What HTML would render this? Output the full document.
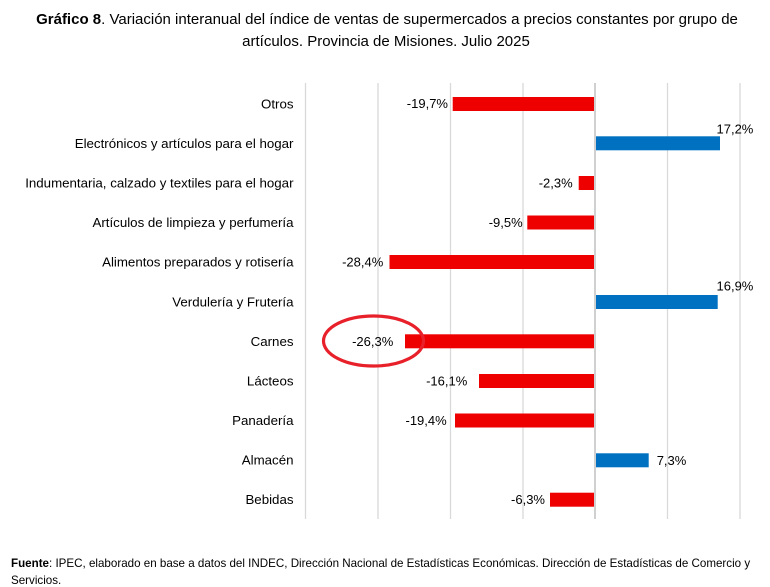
<!DOCTYPE html>
<html>
<head>
<meta charset="utf-8">
<style>
  html, body { margin: 0; padding: 0; background: #ffffff; }
  body { width: 770px; height: 587px; overflow: hidden; }
  svg { display: block; }
  text { font-family: "Liberation Sans", Arial, sans-serif; fill: #000; }
</style>
</head>
<body>
<svg width="770" height="587" viewBox="0 0 770 587" xmlns="http://www.w3.org/2000/svg">
  <!-- Title -->
  <text x="387" y="24" font-size="15" text-anchor="middle"><tspan font-weight="bold">Gráfico 8</tspan>. Variación interanual del índice de ventas de supermercados a precios constantes por grupo de</text>
  <text x="386" y="46" font-size="15" text-anchor="middle">artículos. Provincia de Misiones. Julio 2025</text>

  <!-- Gridlines -->
  <g stroke="#d9d9d9" stroke-width="1.3">
    <line x1="305.5" y1="83" x2="305.5" y2="519"/>
    <line x1="378" y1="83" x2="378" y2="519"/>
    <line x1="450.5" y1="83" x2="450.5" y2="519"/>
    <line x1="523" y1="83" x2="523" y2="519"/>
    <line x1="667.5" y1="83" x2="667.5" y2="519"/>
    <line x1="740" y1="83" x2="740" y2="519"/>
  </g>
  <line x1="595" y1="83" x2="595" y2="519" stroke="#d0d0d0" stroke-width="2"/>

  <!-- Bars -->
  <g fill="#EE0000">
    <rect x="452.7" y="97" width="141.3" height="14"/>
    <rect x="578.7" y="176" width="15.3" height="14"/>
    <rect x="527.3" y="215.5" width="66.7" height="14"/>
    <rect x="389.5" y="255" width="204.5" height="14"/>
    <rect x="405" y="334.3" width="189" height="14"/>
    <rect x="479" y="374" width="115" height="14"/>
    <rect x="455" y="413.5" width="139" height="14"/>
    <rect x="550" y="492.7" width="44" height="14"/>
  </g>
  <g fill="#0070C0">
    <rect x="596" y="136.3" width="124" height="14"/>
    <rect x="596" y="295" width="121.7" height="14"/>
    <rect x="596" y="453.3" width="52.7" height="14"/>
  </g>

  <!-- Category labels -->
  <g font-size="13.3" text-anchor="end">
    <text x="293.5" y="108.5">Otros</text>
    <text x="293.5" y="148">Electrónicos y artículos para el hogar</text>
    <text x="293.5" y="187.6">Indumentaria, calzado y textiles para el hogar</text>
    <text x="293.5" y="227.2">Artículos de limpieza y perfumería</text>
    <text x="293.5" y="266.7">Alimentos preparados y rotisería</text>
    <text x="293.5" y="306.3">Verdulería y Frutería</text>
    <text x="293.5" y="345.9">Carnes</text>
    <text x="293.5" y="385.5">Lácteos</text>
    <text x="293.5" y="425">Panadería</text>
    <text x="293.5" y="464.6">Almacén</text>
    <text x="293.5" y="504.2">Bebidas</text>
  </g>

  <!-- Value labels -->
  <g font-size="13" text-anchor="end">
    <text x="448" y="108">-19,7%</text>
    <text x="572.7" y="187.5">-2,3%</text>
    <text x="522.7" y="227">-9,5%</text>
    <text x="383.3" y="266.5">-28,4%</text>
    <text x="393.3" y="346">-26,3%</text>
    <text x="467.3" y="385.5">-16,1%</text>
    <text x="446.7" y="425">-19,4%</text>
    <text x="545" y="504">-6,3%</text>
  </g>
  <g font-size="13" text-anchor="start">
    <text x="716.5" y="133.3">17,2%</text>
    <text x="716.5" y="290.3">16,9%</text>
    <text x="656.7" y="465">7,3%</text>
  </g>

  <!-- Highlight ellipse -->
  <ellipse cx="373.5" cy="341" rx="50" ry="25" fill="none" stroke="#E8202A" stroke-width="3.2"/>

  <!-- Footnote -->
  <text x="11" y="567" font-size="11.6"><tspan font-weight="bold">Fuente</tspan>: IPEC, elaborado en base a datos del INDEC, Dirección Nacional de Estadísticas Económicas. Dirección de Estadísticas de Comercio y</text>
  <text x="11" y="584" font-size="11.6">Servicios.</text>
</svg>
</body>
</html>
